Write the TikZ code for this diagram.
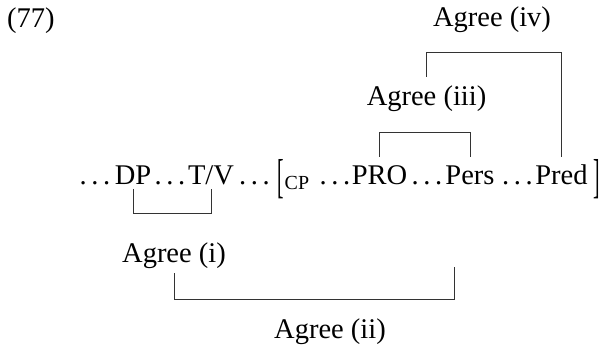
\documentclass[tikz,border=0pt]{standalone}
\usepackage{fontspec}
\usepackage{graphicx}
\setmainfont{Liberation Serif}
\newcommand{\mydots}{.\kern4.6pt.\kern4.6pt.}
\newcommand{\tallbrk}[1]{\raisebox{-8pt}{\resizebox{6.5pt}{33pt}{#1}}}
\begin{document}
\begin{tikzpicture}[x=1pt,y=1pt,
  txt/.style={inner sep=0pt, anchor=base, font=\fontsize{28.5}{34}\selectfont},
  brk/.style={inner sep=0pt, anchor=base west, font=\fontsize{28.5}{34}\selectfont},
  link/.style={draw=black!80, line width=0.8pt}]
\useasboundingbox (0,0) rectangle (604,-347);
% example number
\node[brk] (ex) at (7,-28) {(77)};
% main line
\node[txt] (d1) at (95,-185) {\mydots};
\node[txt] (DP) at (133,-185) {DP};
\node[txt] (d2) at (170,-185) {\mydots};
\node[txt] (TV) at (211,-185) {T/V};
\node[txt] (d3) at (254.5,-185) {\mydots};
\node[brk] (lb) at (277,-185) {\tallbrk{[}\kern1pt\textsubscript{CP}};
\node[txt] (d4) at (335,-185) {\mydots};
\node[txt] (PRO) at (379.5,-185) {PRO};
\node[txt] (d5) at (427,-185) {\mydots};
\node[txt] (Pers) at (470,-185) {Pers};
\node[txt] (d6) at (517.5,-185) {\mydots};
\node[txt] (Pred) at (561.5,-185) {Pred};
\node[brk] (rb) at (593,-185) {\tallbrk{]}};
% labels
\node[txt] (a1) at (174,-262) {Agree (i)};
\node[txt] (a2) at (330,-338) {Agree (ii)};
\node[txt] (a3) at (426.5,-106) {Agree (iii)};
\node[txt] (a4) at (492,-27) {Agree (iv)};
% Agree (i)
\draw[link] ([yshift=-4pt]DP.base) -- ++(0,-24) -| ([yshift=-4pt]TV.base);
% Agree (ii)
\draw[link] ([yshift=-11pt]a1.base) -- ++(0,-26) -| ([xshift=-16pt,yshift=-82pt]Pers.base);
% Agree (iii)
\draw[link] ([yshift=28pt]PRO.base) -- ++(0,25) -| ([yshift=28pt]Pers.base);
% Agree (iv)
\draw[link] ([yshift=29pt]a3.base) -- ++(0,25) -| ([yshift=28pt]Pred.base);
\end{tikzpicture}
\end{document}
